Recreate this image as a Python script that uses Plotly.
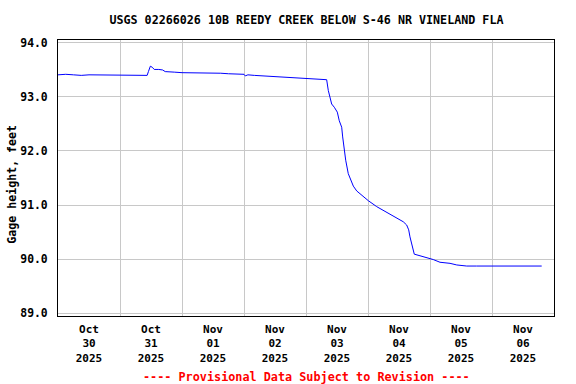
import plotly.graph_objects as go

# Gage height readings (feet)
times = [
    "2025-10-30 00:00", "2025-10-30 03:00", "2025-10-30 06:00", "2025-10-30 09:00",
    "2025-10-30 12:00", "2025-10-30 15:00", "2025-10-30 18:00", "2025-10-30 21:00",
    "2025-10-31 00:00", "2025-10-31 03:00", "2025-10-31 06:00", "2025-10-31 09:00",
    "2025-10-31 10:30", "2025-10-31 11:00", "2025-10-31 11:45", "2025-10-31 12:30",
    "2025-10-31 13:15", "2025-10-31 15:00", "2025-10-31 16:30", "2025-10-31 17:30",
    "2025-10-31 19:00", "2025-10-31 21:00",
    "2025-11-01 00:00", "2025-11-01 03:00", "2025-11-01 06:00", "2025-11-01 09:00",
    "2025-11-01 12:00", "2025-11-01 15:00", "2025-11-01 18:00", "2025-11-01 21:00",
    "2025-11-02 00:00", "2025-11-02 00:30", "2025-11-02 01:30", "2025-11-02 04:00",
    "2025-11-02 07:00", "2025-11-02 10:00", "2025-11-02 13:00", "2025-11-02 16:00",
    "2025-11-02 19:00", "2025-11-02 22:00", "2025-11-03 02:00", "2025-11-03 05:00",
    "2025-11-03 08:00", "2025-11-03 08:38", "2025-11-03 09:56", "2025-11-03 10:57",
    "2025-11-03 12:07", "2025-11-03 12:53", "2025-11-03 13:49", "2025-11-03 14:12",
    "2025-11-03 14:43", "2025-11-03 15:22", "2025-11-03 16:22", "2025-11-03 17:18",
    "2025-11-03 18:19", "2025-11-03 19:38", "2025-11-03 21:33", "2025-11-04 00:07",
    "2025-11-04 03:22", "2025-11-04 07:15", "2025-11-04 11:07", "2025-11-04 13:39",
    "2025-11-04 14:58", "2025-11-04 15:45", "2025-11-04 16:15", "2025-11-04 16:55",
    "2025-11-04 17:55", "2025-11-04 20:08", "2025-11-04 22:44", "2025-11-05 01:16",
    "2025-11-05 03:52", "2025-11-05 07:45", "2025-11-05 10:21", "2025-11-05 14:13",
    "2025-11-05 18:00", "2025-11-05 22:00", "2025-11-06 02:00", "2025-11-06 06:00",
    "2025-11-06 10:00", "2025-11-06 14:00", "2025-11-06 19:14",
]
gage_ft = [
    93.41, 93.42, 93.41, 93.40,
    93.41, 93.41, 93.40, 93.41,
    93.41, 93.40, 93.41, 93.40,
    93.40, 93.47, 93.57, 93.55,
    93.51, 93.51, 93.50, 93.47,
    93.46, 93.46,
    93.45, 93.45, 93.45, 93.44,
    93.44, 93.44, 93.43, 93.43,
    93.42, 93.39, 93.41, 93.40,
    93.39, 93.38, 93.37, 93.36,
    93.35, 93.34, 93.34, 93.33,
    93.32, 93.12, 92.87, 92.81,
    92.72, 92.56, 92.44, 92.26,
    92.01, 91.83, 91.58, 91.46,
    91.35, 91.26, 91.18, 91.08,
    90.97, 90.86, 90.76, 90.69,
    90.63, 90.54, 90.41, 90.26,
    90.09, 90.06, 90.03, 89.99,
    89.94, 89.92, 89.89, 89.87,
    89.87, 89.87, 89.87, 89.87,
    89.87, 89.87, 89.87,
]

# Axis ticks
y_ticks = [89.0, 90.0, 91.0, 92.0, 93.0, 94.0]
y_tick_labels = ["89.0", "90.0", "91.0", "92.0", "93.0", "94.0"]
day_grid = ["2025-10-30", "2025-10-31", "2025-11-01", "2025-11-02", "2025-11-03",
            "2025-11-04", "2025-11-05", "2025-11-06", "2025-11-07"]
label_pos = ["2025-10-30 12:00", "2025-10-31 12:00", "2025-11-01 12:00", "2025-11-02 12:00",
             "2025-11-03 12:00", "2025-11-04 12:00", "2025-11-05 12:00", "2025-11-06 12:00"]
x_tick_labels = ["Oct<br>30<br>2025", "Oct<br>31<br>2025", "Nov<br>01<br>2025",
                 "Nov<br>02<br>2025", "Nov<br>03<br>2025", "Nov<br>04<br>2025",
                 "Nov<br>05<br>2025", "Nov<br>06<br>2025"]

FONT = "DejaVu Sans Mono"
GRID = "#c8c8c8"

fig = go.Figure()
fig.add_trace(go.Scatter(x=times, y=gage_ft, mode="lines",
                         line=dict(color="#0000ff", width=1), showlegend=False))
# invisible trace to activate second x axis
fig.add_trace(go.Scatter(x=[times[0]], y=[gage_ft[0]], xaxis="x2", mode="markers",
                         marker=dict(opacity=0), showlegend=False, hoverinfo="skip"))

x_range = ["2025-10-30 00:00", "2025-11-07 00:00"]

fig.update_layout(
    width=576, height=384,
    margin=dict(l=58, r=22, t=40, b=68, autoexpand=False),
    paper_bgcolor="white", plot_bgcolor="white",
    font=dict(family=FONT, size=11, color="black"),
    title=dict(text="<b>USGS 02266026 10B REEDY CREEK BELOW S-46 NR VINELAND FLA</b>",
               x=0.532, xanchor="center", y=0.947, yanchor="middle", automargin=False,
               font=dict(family=FONT, size=11.7, color="black")),
    xaxis=dict(range=x_range, type="date", tickvals=day_grid, showticklabels=False,
               showgrid=True, gridcolor=GRID, gridwidth=1, ticks="", automargin=False,
               showline=True, linecolor="black", linewidth=1, mirror=True,
               zeroline=False),
    xaxis2=dict(range=x_range, type="date", overlaying="x", side="bottom",
                tickvals=label_pos, ticktext=[f"<b>{t}</b>" for t in x_tick_labels],
                showgrid=False, ticks="", showline=False, zeroline=False, automargin=False,
                tickfont=dict(family=FONT, size=11, color="black"),
                ticklabelstandoff=5),
    yaxis=dict(range=[88.945, 94.055], tickvals=y_ticks, automargin=False,
               ticktext=[f"<b>{t}</b>" for t in y_tick_labels],
               showgrid=True, gridcolor=GRID, gridwidth=1, ticks="",
               showline=True, linecolor="black", linewidth=1, mirror=True,
               zeroline=False, ticklabelstandoff=7,
               tickfont=dict(family=FONT, size=11.4, color="black")),
    annotations=[
        dict(text="<b>Gage height, feet</b>", textangle=-90,
             xref="paper", yref="paper", x=-0.0927, y=0.476,
             xanchor="center", yanchor="middle", showarrow=False,
             font=dict(family=FONT, size=11.6, color="black")),
        dict(text="<b>---- Provisional Data Subject to Revision ----</b>",
             xref="paper", yref="paper", x=0.5, y=-0.222,
             xanchor="center", yanchor="middle", showarrow=False,
             font=dict(family=FONT, size=11.8, color="#ff0000")),
    ],
)

fig.write_html("out.html", config={"displayModeBar": False},
               post_script="document.body.style.margin='0px';document.body.style.overflow='hidden';")
